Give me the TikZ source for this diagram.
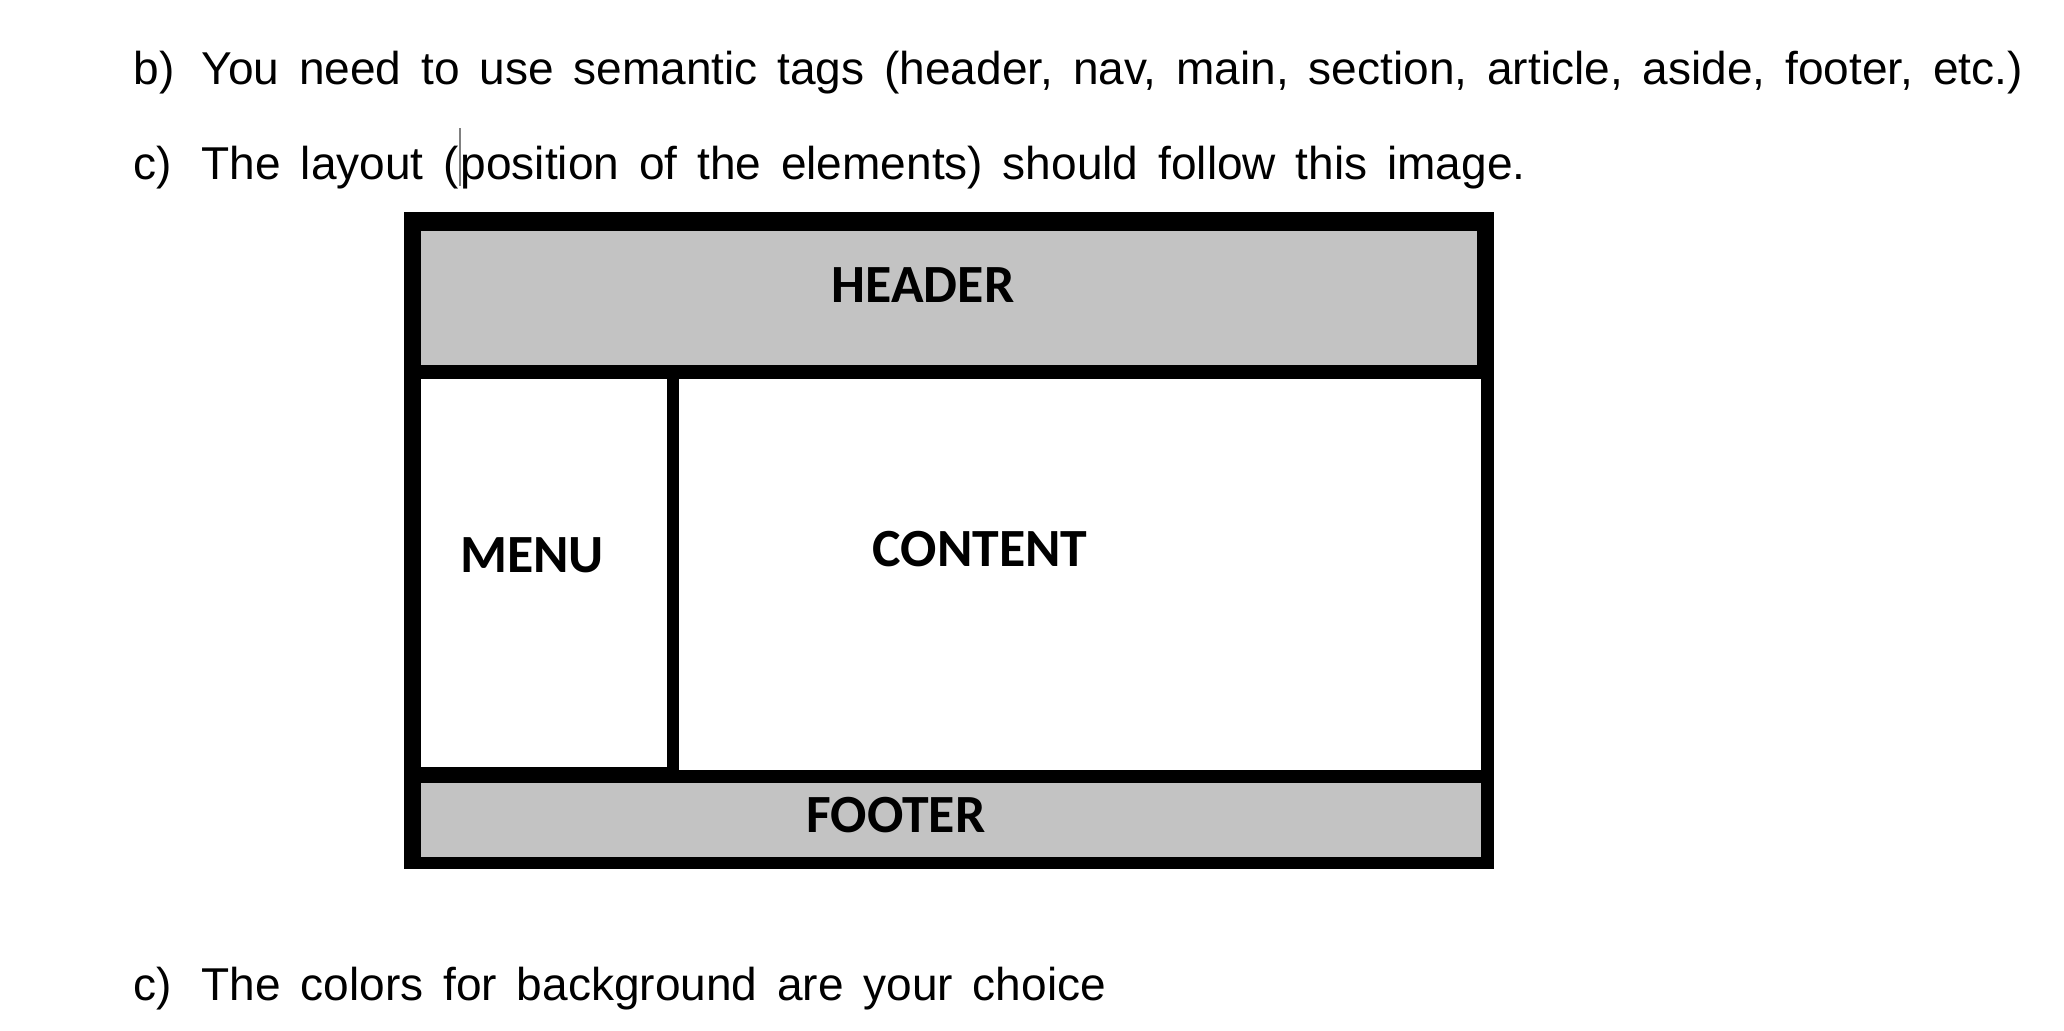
\documentclass[tikz,border=0pt]{standalone}
\usepackage{fontspec}
\setmainfont{Liberation Sans}
\newfontfamily\calibri{Carlito}
\definecolor{cellgray}{RGB}{195,195,195}
\tikzset{
  cell/.style={rectangle,draw=none,anchor=north west,inner sep=0pt},
  boxlabel/.style={font=\calibri\bfseries\fontsize{15.3}{18}\selectfont,anchor=base,inner sep=0pt},
  item/.style={font=\fontsize{13.1}{16}\selectfont,anchor=base west,inner sep=0pt},
}
\newcommand{\itemtag}[1]{\spaceskip=0.43em\relax\makebox[0.68cm][l]{#1}}

\begin{document}
\begin{tikzpicture}
        \useasboundingbox (0,0) rectangle (20.64,10.30);

        % instructions
        \node[item] (itemb)  at (1.33,9.45) {\itemtag{b)}You need to use semantic tags (header, nav, main, section, article, aside, footer, etc.)};
        \node[item] (itemc)  at (1.33,8.50) {\itemtag{c)}The layout (\textcolor{gray}{\rule[-0.25ex]{0.5pt}{2.4ex}}position of the elements) should follow this image.};
        \node[item] (itemc2) at (1.33,0.30) {\itemtag{c)}The colors for background are your choice};

        % layout
        \node[cell,fill=black,minimum width=10.90cm,minimum height=6.57cm] (frame) at (4.03,8.19) {};
        \node[cell,fill=cellgray,minimum width=10.56cm,minimum height=1.34cm] (header) at (4.20,8.00) {};
        \node[cell,fill=white,minimum width=2.46cm,minimum height=3.88cm] (menu) at (4.20,6.52) {};
        \node[cell,fill=white,minimum width=8.02cm,minimum height=3.91cm] (content) at (6.78,6.52) {};
        \node[cell,fill=cellgray,minimum width=10.60cm,minimum height=0.74cm] (footer) at (4.20,2.48) {};

        \begin{scope}[every node/.style={boxlabel}]
          \node (headerlabel)  at (9.23,7.27) {HEADER};
          \node (menulabel)    at (5.32,4.58) {MENU};
          \node (contentlabel) at (9.80,4.63) {CONTENT};
          \node (footerlabel)  at (8.96,1.98) {FOOTER};
        \end{scope}

      \end{tikzpicture}
\end{document}
